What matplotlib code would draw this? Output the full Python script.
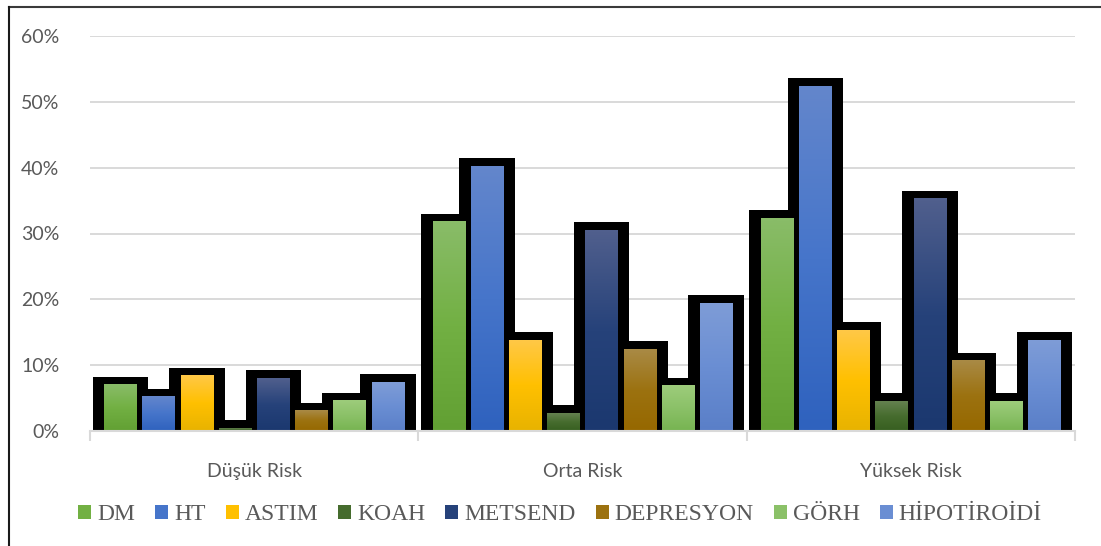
import numpy as np
import matplotlib
matplotlib.use('Agg')
import matplotlib.pyplot as plt
import matplotlib.colors as mcols
from matplotlib.patches import Patch
from matplotlib.lines import Line2D
from matplotlib.ticker import FuncFormatter, FixedLocator

# risk groups and the share (%) of each comorbidity inside them
groups = ['Düşük Risk', 'Orta Risk', 'Yüksek Risk']
series = ['DM', 'HT', 'ASTIM', 'KOAH', 'METSEND', 'DEPRESYON', 'GÖRH', 'HİPOTİROİDİ']
values = {
    'DM':          [7.0, 31.8, 32.3],
    'HT':          [5.2, 40.2, 52.4],
    'ASTIM':       [8.4, 13.8, 15.3],
    'KOAH':        [0.4, 2.7, 4.5],
    'METSEND':     [8.0, 30.5, 35.3],
    'DEPRESYON':   [3.1, 12.4, 10.7],
    'GÖRH':        [4.6, 6.9, 4.5],
    'HİPOTİROİDİ': [7.4, 19.4, 13.8],
}
yticks = [0, 10, 20, 30, 40, 50, 60]

# gradient stops (top, middle, bottom) per series
grad = {
    'DM':          ['#89bc68', '#72b043', '#62a033'],
    'HT':          ['#6386cc', '#4675ca', '#2f62be'],
    'ASTIM':       ['#ffc846', '#ffc000', '#e8b300'],
    'KOAH':        ['#64814f', '#466c2e', '#375f20'],
    'METSEND':     ['#505f8d', '#26427a', '#1b386f'],
    'DEPRESYON':   ['#a98a45', '#9c7210', '#966800'],
    'GÖRH':        ['#9dcc7b', '#8bc168', '#77b451'],
    'HİPOTİROİDİ': ['#7e9cd7', '#6a8ed3', '#5a7fc8'],
}

W, H = 1101, 546
fig = plt.figure(figsize=(W / 100, H / 100), dpi=100)
ax = fig.add_axes([90 / W, 115 / H, 985 / W, 395 / H])

slot = 0.1163
bw = 0.099
padx = 0.035     # black frame around each bar
pady = 1.22
x = np.arange(len(groups))

# black frames first, then gradient fills on top
for i, name in enumerate(series):
    xs = x + (i - 3.5) * slot
    v = np.array(values[name])
    ax.bar(xs, v + pady + 0.3, width=bw + 2 * padx, bottom=-0.3,
           color='black', linewidth=0, zorder=2)
    bars = ax.bar(xs, v, width=bw, color=grad[name][1], linewidth=0, zorder=3)
    cmap = mcols.LinearSegmentedColormap.from_list(name, grad[name][::-1])
    for b in bars:
        x0, y0 = b.get_x(), b.get_y()
        img = np.linspace(0, 1, 64).reshape(-1, 1)
        ax.imshow(img, cmap=cmap, origin='lower', aspect='auto', interpolation='bilinear',
                  extent=[x0, x0 + b.get_width(), y0, y0 + b.get_height()], zorder=3.5)

ax.set_xlim(-0.5, 2.5)
ax.set_ylim(0, 60)
ax.set_yticks(yticks)
ax.yaxis.set_major_formatter(FuncFormatter(lambda v, p: f'{v:.0f}%'))
ax.set_xticks(x)
ax.set_xticklabels(groups)
ax.xaxis.set_minor_locator(FixedLocator([-0.5, 0.5, 1.5, 2.5]))
ax.tick_params(axis='x', which='major', length=0, pad=23, labelsize=14, labelcolor='#595959')
ax.tick_params(axis='x', which='minor', length=7, width=1.5, color='#d9d9d9')
ax.tick_params(axis='y', length=0, pad=22, labelsize=14, labelcolor='#595959')
for lab in ax.get_xticklabels() + ax.get_yticklabels():
    lab.set_family('Lato')

ax.yaxis.grid(True, color='#d9d9d9', linewidth=1.4)
ax.set_axisbelow(True)
for s in ['left', 'right', 'top']:
    ax.spines[s].set_visible(False)
ax.spines['bottom'].set_color('#d9d9d9')
ax.spines['bottom'].set_linewidth(1.5)
ax.spines['bottom'].set_zorder(5)

handles = [Patch(facecolor=grad[n][1], edgecolor='none') for n in series]
leg = fig.legend(handles, series, loc='center', bbox_to_anchor=(0.5086, 31 / H), ncol=8,
                 frameon=False, handlelength=0.55, handleheight=0.55, handletextpad=0.25,
                 columnspacing=0.85, prop={'family': 'Liberation Serif', 'size': 17})
for t in leg.get_texts():
    t.set_color('#595959')

# chart border (top and left edges)
fig.add_artist(Line2D([8.5 / W, 1], [1 - 6.5 / H, 1 - 6.5 / H], transform=fig.transFigure,
                      color='#3a3a3a', linewidth=1.5))
fig.add_artist(Line2D([8.5 / W, 8.5 / W], [0, 1 - 6.5 / H], transform=fig.transFigure,
                      color='#1a1a1a', linewidth=1.5))

fig.savefig('out.png', dpi=100)
